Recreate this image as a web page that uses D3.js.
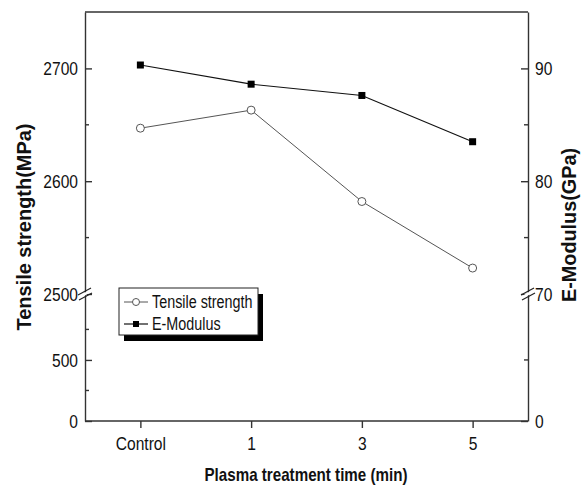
<!DOCTYPE html>
<html lang="en">
<head>
	<meta charset="UTF-8">
	<script src="https://d3js.org/d3.v7.min.js"></script>
	<title>Tensile strength and E-Modulus</title>
	<style type="text/css">
		body{ margin: 0; background: #fff; }
		text{ font-family: "Liberation Sans", Arial, sans-serif; fill: #111; }
		.axis path, .axis line{ stroke: #333; stroke-width: 1.4; }
		.axis text{ font-size: 19px; }
		.title{ font-weight: bold; }
		.leg{ font-size: 17.5px; }
	</style>
</head>
<body>
	<svg width="584" height="491"></svg>
<script>
// data
var categories = ["Control", "1", "3", "5"];
var tensile = [2647, 2663, 2582, 2523];      // MPa
var modulus = [90.3, 88.6, 87.6, 83.5];      // GPa

// tick labels
var leftTopTicks = [2500, 2600, 2700], leftTopMinor = [2550, 2650];
var leftBotTicks = [0, 500], leftBotMinor = [250, 750];
var rightTopTicks = [70, 80, 90], rightTopMinor = [75, 85];
var rightBotTicks = [0], rightBotMinor = [50];

var svg = d3.select("svg");
var pLeft = 85, pRight = 528, pTop = 12, pBottom = 421, brk = 294;

var x = d3.scalePoint().domain(categories).range([pLeft, pRight]).padding(0.5);
var yTop = d3.scaleLinear().domain([2500, 2750]).range([brk, pTop]);
var yBot = d3.scaleLinear().domain([0, 1040]).range([pBottom, brk]);
var rTop = d3.scaleLinear().domain([70, 95]).range([brk, pTop]);
var rBot = d3.scaleLinear().domain([0, 104]).range([pBottom, brk]);

// the original uses a narrow font, squeeze the text to match
function condense(sel, f) {
	sel.each(function() {
		var w = this.getComputedTextLength();
		d3.select(this).attr("textLength", w * f).attr("lengthAdjust", "spacingAndGlyphs");
	});
}

function yAxis(gen, scale, major, minor, xpos) {
	var g = svg.append("g").attr("class", "axis").attr("transform", "translate(" + xpos + ",0)");
	g.call(gen(scale).tickValues(major).tickFormat(d3.format("d"))
		.tickSizeInner(-7).tickSizeOuter(0).tickPadding(7));
	g.attr("font-size", null).attr("font-family", null);
	condense(g.selectAll(".tick text"), 0.82);
	var dir = gen === d3.axisLeft ? 1 : -1;
	g.selectAll(".minor").data(minor).enter().append("line")
		.attr("x1", 0).attr("x2", 4 * dir)
		.attr("y1", function(d){ return scale(d); })
		.attr("y2", function(d){ return scale(d); });
	return g;
}

yAxis(d3.axisLeft, yTop, leftTopTicks, leftTopMinor, pLeft);
yAxis(d3.axisLeft, yBot, leftBotTicks, leftBotMinor, pLeft);
yAxis(d3.axisRight, rTop, rightTopTicks, rightTopMinor, pRight);
yAxis(d3.axisRight, rBot, rightBotTicks, rightBotMinor, pRight);

// top frame line
svg.append("line").attr("x1", pLeft).attr("x2", pRight).attr("y1", pTop).attr("y2", pTop)
	.attr("stroke", "#333").attr("stroke-width", 1.4);

// x axis
var xg = svg.append("g").attr("class", "axis").attr("transform", "translate(0," + pBottom + ")")
	.call(d3.axisBottom(x).tickSizeInner(7).tickSizeOuter(0).tickPadding(9));
xg.attr("font-size", null).attr("font-family", null);
xg.select(".domain").attr("d", "M" + pLeft + ",0H" + pRight);
condense(xg.selectAll(".tick text"), 0.82);

// axis breaks
[pLeft, pRight].forEach(function(bx) {
	var b = svg.append("g").attr("transform", "translate(" + bx + "," + brk + ")");
	b.append("path").attr("d", "M-6,2L6,-5L6,-2L-6,5Z").attr("fill", "#fff");
	b.append("line").attr("x1", -7).attr("y1", 1).attr("x2", 6).attr("y2", -6).attr("stroke", "#222").attr("stroke-width", 1.2);
	b.append("line").attr("x1", -6).attr("y1", 6).attr("x2", 7).attr("y2", -1).attr("stroke", "#222").attr("stroke-width", 1.2);
});

// lines
var tLine = d3.line().x(function(d, i){ return x(categories[i]); }).y(function(d){ return yTop(d); });
var mLine = d3.line().x(function(d, i){ return x(categories[i]); }).y(function(d){ return rTop(d); });

svg.append("path").datum(tensile).attr("d", tLine)
	.attr("fill", "none").attr("stroke", "#555").attr("stroke-width", 1);
svg.append("path").datum(modulus).attr("d", mLine)
	.attr("fill", "none").attr("stroke", "#111").attr("stroke-width", 1.2);

svg.selectAll(".tpt").data(tensile).enter().append("circle")
	.attr("cx", function(d, i){ return x(categories[i]); })
	.attr("cy", function(d){ return yTop(d); })
	.attr("r", 4).attr("fill", "#fff").attr("stroke", "#555").attr("stroke-width", 1);
svg.selectAll(".mpt").data(modulus).enter().append("rect")
	.attr("x", function(d, i){ return x(categories[i]) - 3.5; })
	.attr("y", function(d){ return rTop(d) - 3.5; })
	.attr("width", 7).attr("height", 7).attr("fill", "#000");

// legend
var lg = svg.append("g").attr("transform", "translate(119,288)");
lg.append("rect").attr("x", 5).attr("y", 6).attr("width", 139).attr("height", 47).attr("fill", "#000");
lg.append("rect").attr("x", 0).attr("y", 0).attr("width", 139).attr("height", 47)
	.attr("fill", "#fff").attr("stroke", "#222").attr("stroke-width", 1);
lg.append("line").attr("x1", 5).attr("x2", 29).attr("y1", 14).attr("y2", 14).attr("stroke", "#555");
lg.append("circle").attr("cx", 17).attr("cy", 14).attr("r", 3.5).attr("fill", "#fff").attr("stroke", "#555");
lg.append("text").attr("class", "leg").attr("x", 33).attr("y", 20).text("Tensile strength");
lg.append("line").attr("x1", 5).attr("x2", 29).attr("y1", 36).attr("y2", 36).attr("stroke", "#111").attr("stroke-width", 1.2);
lg.append("rect").attr("x", 14).attr("y", 33).attr("width", 6).attr("height", 6).attr("fill", "#000");
lg.append("text").attr("class", "leg").attr("x", 33).attr("y", 42).text("E-Modulus");
condense(lg.selectAll("text"), 0.82);

// axis titles
svg.append("text").attr("class", "title").attr("text-anchor", "middle")
	.style("font-size", "19.5px").attr("textLength", 207).attr("lengthAdjust", "spacingAndGlyphs")
	.attr("transform", "translate(31,227) rotate(-90)").text("Tensile strength(MPa)");
svg.append("text").attr("class", "title").attr("text-anchor", "middle")
	.style("font-size", "19.5px").attr("textLength", 154).attr("lengthAdjust", "spacingAndGlyphs")
	.attr("transform", "translate(576,225) rotate(-90)").text("E-Modulus(GPa)");
svg.append("text").attr("class", "title").attr("text-anchor", "middle")
	.style("font-size", "18.5px").attr("textLength", 203).attr("lengthAdjust", "spacingAndGlyphs")
	.attr("x", 306).attr("y", 481).text("Plasma treatment time (min)");
</script>
</body>
</html>
